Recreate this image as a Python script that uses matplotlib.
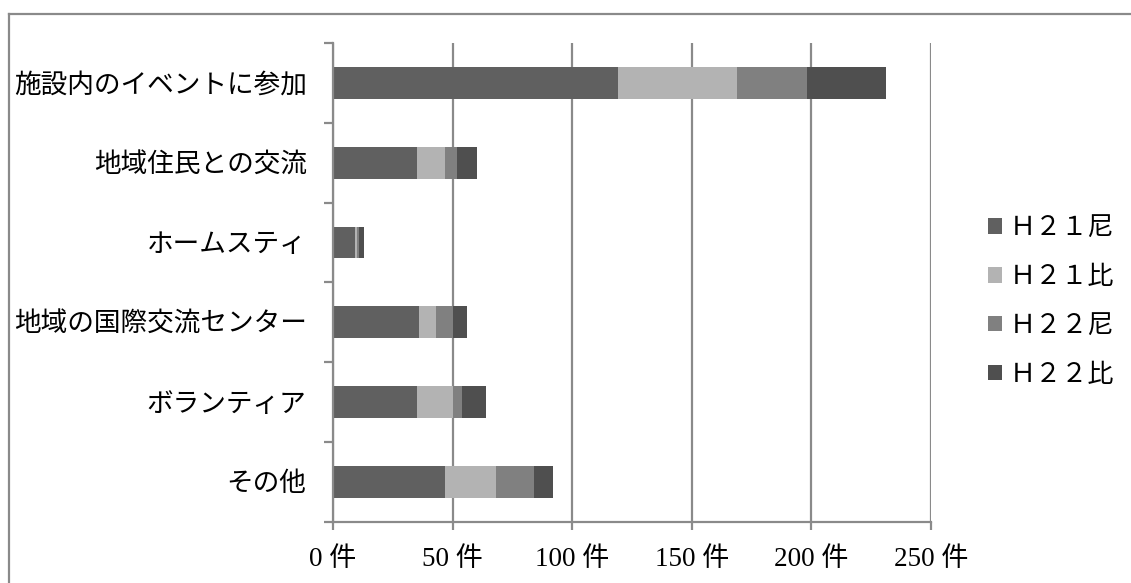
import matplotlib
matplotlib.use("Agg")
import matplotlib.pyplot as plt
import numpy as np
from matplotlib.patches import Patch
from matplotlib.lines import Line2D
from matplotlib.ticker import FixedLocator, FuncFormatter

categories = ["施設内のイベントに参加", "地域住民との交流", "ホームスティ",
              "地域の国際交流センター", "ボランティア", "その他"]
series_names = ["Ｈ２１尼", "Ｈ２１比", "Ｈ２２尼", "Ｈ２２比"]
h21_ni = [119, 35, 9, 36, 35, 47]
h21_hi = [50, 12, 1, 7, 15, 21]
h22_ni = [29, 5, 1, 7, 4, 16]
h22_hi = [33, 8, 2, 6, 10, 8]
x_ticks = [0, 50, 100, 150, 200, 250]
colors = ["#606060", "#b3b3b3", "#808080", "#4f4f4f"]

plt.rcParams['font.family'] = ['Liberation Serif', 'Noto Sans CJK JP', 'DejaVu Sans']

W, H = 1131, 583
fig = plt.figure(figsize=(W / 100, H / 100), dpi=100)
ax = fig.add_axes([333 / W, 1 - 521.7 / H, (931 - 333) / W, (521.7 - 43) / H])

series = [h21_ni, h21_hi, h22_ni, h22_hi]
y = np.arange(len(categories))
left = np.zeros(len(categories))
handles = []
for name, vals, c in zip(series_names, series, colors):
    ax.barh(y, vals, left=left, height=0.4, color=c, edgecolor='none', zorder=3)
    left += np.array(vals)
    handles.append(Patch(facecolor=c, edgecolor='none', label=name))

ax.set_xlim(0, 250)
ax.set_ylim(len(categories) - 0.5, -0.5)

gc = "#8a8a8a"
ax.xaxis.set_major_locator(FixedLocator(x_ticks))
ax.xaxis.set_major_formatter(FuncFormatter(lambda v, p: f"{int(v)} 件"))
ax.grid(axis='x', color=gc, linewidth=1.6, zorder=1)
ax.tick_params(axis='x', length=5.5, width=1.6, color=gc, labelsize=19.5, pad=13)

ax.yaxis.set_major_locator(FixedLocator(np.arange(-0.5, len(categories), 1.0)))
ax.yaxis.set_major_formatter(FuncFormatter(lambda v, p: ""))
ax.set_yticks(y, minor=True)
ax.set_yticklabels(categories, minor=True)
ax.tick_params(axis='y', which='major', length=6.5, width=1.6, color=gc)
ax.tick_params(axis='y', which='minor', length=0, labelsize=19.2, pad=19)

for s in ['top', 'right']:
    ax.spines[s].set_visible(False)
for s in ['left', 'bottom']:
    ax.spines[s].set_color(gc)
    ax.spines[s].set_linewidth(1.6)
    ax.spines[s].set_zorder(4)

fig.legend(handles=handles, loc='center left', bbox_to_anchor=(988 / W, 1 - 302 / H),
           frameon=False, fontsize=18.8, handlelength=0.55, handleheight=0.55,
           handletextpad=0.3, labelspacing=0.98, borderaxespad=0, borderpad=0)

# outer chart border (left and top visible)
fig.add_artist(Line2D([8.7 / W, 8.7 / W], [0, 1 - 14 / H], transform=fig.transFigure,
                      color=gc, linewidth=1.6))
fig.add_artist(Line2D([8.7 / W, 1], [1 - 14 / H, 1 - 14 / H], transform=fig.transFigure,
                      color=gc, linewidth=1.6))

fig.savefig("out.png", dpi=100, facecolor='white')
